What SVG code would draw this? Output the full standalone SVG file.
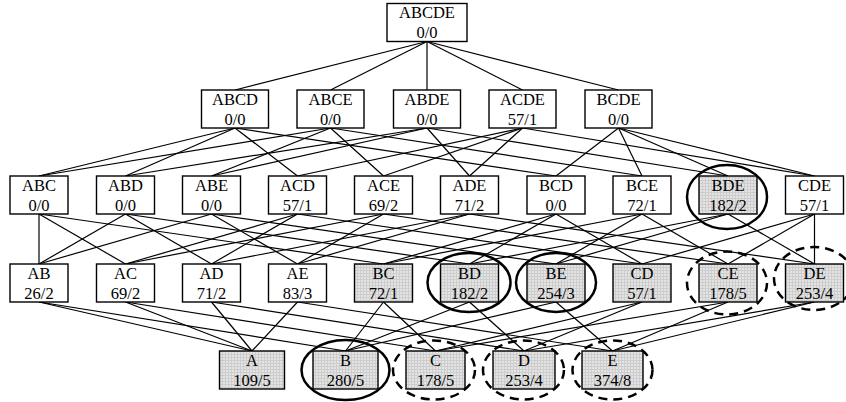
<svg xmlns="http://www.w3.org/2000/svg" width="846" height="402" viewBox="0 0 846 402">
<defs>
<pattern id="grid" width="3" height="3" patternUnits="userSpaceOnUse">
<rect width="3" height="3" fill="#e4e4e4"/>
<path d="M0 0.5H3M0.5 0V3" stroke="#cdcdcd" stroke-width="1"/>
</pattern>
</defs>
<style>
.box{fill:#fff;stroke:#000;stroke-width:1.4}
.hl{fill:url(#grid);stroke:#000;stroke-width:1.4}
.t{font-family:"Liberation Serif","Times New Roman",serif;font-size:16.5px;fill:#000;text-anchor:middle}
.sol{fill:none;stroke:#000;stroke-width:2.5}
.dsh{fill:none;stroke:#000;stroke-width:2.5;stroke-dasharray:9 6}
#edges line{stroke:#000;stroke-width:1.2}
</style>
<g id="edges">
<!-- row1 to row2 -->
<line x1="427" y1="41.5" x2="235" y2="90"/>
<line x1="427" y1="41.5" x2="330.5" y2="90"/>
<line x1="427" y1="41.5" x2="427" y2="90"/>
<line x1="427" y1="41.5" x2="522.5" y2="90"/>
<line x1="427" y1="41.5" x2="618.5" y2="90"/>
<!-- row2 to row3 -->
<line x1="235" y1="128" x2="39" y2="176"/>
<line x1="235" y1="128" x2="125.5" y2="176"/>
<line x1="235" y1="128" x2="297.5" y2="176"/>
<line x1="235" y1="128" x2="556" y2="176"/>
<line x1="330.5" y1="128" x2="39" y2="176"/>
<line x1="330.5" y1="128" x2="211.5" y2="176"/>
<line x1="330.5" y1="128" x2="383.5" y2="176"/>
<line x1="330.5" y1="128" x2="642" y2="176"/>
<line x1="427" y1="128" x2="125.5" y2="176"/>
<line x1="427" y1="128" x2="211.5" y2="176"/>
<line x1="427" y1="128" x2="469.5" y2="176"/>
<line x1="427" y1="128" x2="728" y2="176"/>
<line x1="522.5" y1="128" x2="297.5" y2="176"/>
<line x1="522.5" y1="128" x2="383.5" y2="176"/>
<line x1="522.5" y1="128" x2="469.5" y2="176"/>
<line x1="522.5" y1="128" x2="814.5" y2="176"/>
<line x1="618.5" y1="128" x2="556" y2="176"/>
<line x1="618.5" y1="128" x2="642" y2="176"/>
<line x1="618.5" y1="128" x2="728" y2="176"/>
<line x1="618.5" y1="128" x2="814.5" y2="176"/>
<!-- row3 to row4 -->
<line x1="39" y1="214" x2="39" y2="264"/>
<line x1="39" y1="214" x2="125.5" y2="264"/>
<line x1="39" y1="214" x2="383.5" y2="264"/>
<line x1="125.5" y1="214" x2="39" y2="264"/>
<line x1="125.5" y1="214" x2="211.5" y2="264"/>
<line x1="125.5" y1="214" x2="469.5" y2="264"/>
<line x1="211.5" y1="214" x2="39" y2="264"/>
<line x1="211.5" y1="214" x2="297.5" y2="264"/>
<line x1="211.5" y1="214" x2="556" y2="264"/>
<line x1="297.5" y1="214" x2="125.5" y2="264"/>
<line x1="297.5" y1="214" x2="211.5" y2="264"/>
<line x1="297.5" y1="214" x2="642" y2="264"/>
<line x1="383.5" y1="214" x2="125.5" y2="264"/>
<line x1="383.5" y1="214" x2="297.5" y2="264"/>
<line x1="383.5" y1="214" x2="728" y2="264"/>
<line x1="469.5" y1="214" x2="211.5" y2="264"/>
<line x1="469.5" y1="214" x2="297.5" y2="264"/>
<line x1="469.5" y1="214" x2="814.5" y2="264"/>
<line x1="556" y1="214" x2="383.5" y2="264"/>
<line x1="556" y1="214" x2="469.5" y2="264"/>
<line x1="556" y1="214" x2="642" y2="264"/>
<line x1="642" y1="214" x2="383.5" y2="264"/>
<line x1="642" y1="214" x2="556" y2="264"/>
<line x1="642" y1="214" x2="728" y2="264"/>
<line x1="728" y1="214" x2="469.5" y2="264"/>
<line x1="728" y1="214" x2="556" y2="264"/>
<line x1="728" y1="214" x2="814.5" y2="264"/>
<line x1="814.5" y1="214" x2="642" y2="264"/>
<line x1="814.5" y1="214" x2="728" y2="264"/>
<line x1="814.5" y1="214" x2="814.5" y2="264"/>
<!-- row4 to row5 -->
<line x1="39" y1="302" x2="252" y2="351"/>
<line x1="39" y1="302" x2="345.5" y2="351"/>
<line x1="125.5" y1="302" x2="252" y2="351"/>
<line x1="125.5" y1="302" x2="435.5" y2="351"/>
<line x1="211.5" y1="302" x2="252" y2="351"/>
<line x1="211.5" y1="302" x2="524" y2="351"/>
<line x1="297.5" y1="302" x2="252" y2="351"/>
<line x1="297.5" y1="302" x2="612.5" y2="351"/>
<line x1="383.5" y1="302" x2="345.5" y2="351"/>
<line x1="383.5" y1="302" x2="435.5" y2="351"/>
<line x1="469.5" y1="302" x2="345.5" y2="351"/>
<line x1="469.5" y1="302" x2="524" y2="351"/>
<line x1="556" y1="302" x2="345.5" y2="351"/>
<line x1="556" y1="302" x2="612.5" y2="351"/>
<line x1="642" y1="302" x2="435.5" y2="351"/>
<line x1="642" y1="302" x2="524" y2="351"/>
<line x1="728" y1="302" x2="435.5" y2="351"/>
<line x1="728" y1="302" x2="612.5" y2="351"/>
<line x1="814.5" y1="302" x2="524" y2="351"/>
<line x1="814.5" y1="302" x2="612.5" y2="351"/>
</g>
<!-- row 1 -->
<g id="ABCDE"><rect class="box" x="387" y="3.5" width="80" height="38"/><text class="t" x="427" y="18">ABCDE</text><text class="t" x="427" y="38">0/0</text></g>
<!-- row 2 -->
<g id="ABCD"><rect class="box" x="201.5" y="90" width="67" height="38"/><text class="t" x="235" y="104.5">ABCD</text><text class="t" x="235" y="124.5">0/0</text></g>
<g id="ABCE"><rect class="box" x="297" y="90" width="67" height="38"/><text class="t" x="330.5" y="104.5">ABCE</text><text class="t" x="330.5" y="124.5">0/0</text></g>
<g id="ABDE"><rect class="box" x="393.5" y="90" width="67" height="38"/><text class="t" x="427" y="104.5">ABDE</text><text class="t" x="427" y="124.5">0/0</text></g>
<g id="ACDE"><rect class="box" x="489" y="90" width="67" height="38"/><text class="t" x="522.5" y="104.5">ACDE</text><text class="t" x="522.5" y="124.5">57/1</text></g>
<g id="BCDE"><rect class="box" x="585" y="90" width="67" height="38"/><text class="t" x="618.5" y="104.5">BCDE</text><text class="t" x="618.5" y="124.5">0/0</text></g>
<!-- row 3 -->
<g id="ABC"><rect class="box" x="10" y="176" width="58" height="38"/><text class="t" x="39" y="190.5">ABC</text><text class="t" x="39" y="210.5">0/0</text></g>
<g id="ABD"><rect class="box" x="96.5" y="176" width="58" height="38"/><text class="t" x="125.5" y="190.5">ABD</text><text class="t" x="125.5" y="210.5">0/0</text></g>
<g id="ABE"><rect class="box" x="182.5" y="176" width="58" height="38"/><text class="t" x="211.5" y="190.5">ABE</text><text class="t" x="211.5" y="210.5">0/0</text></g>
<g id="ACD"><rect class="box" x="268.5" y="176" width="58" height="38"/><text class="t" x="297.5" y="190.5">ACD</text><text class="t" x="297.5" y="210.5">57/1</text></g>
<g id="ACE"><rect class="box" x="354.5" y="176" width="58" height="38"/><text class="t" x="383.5" y="190.5">ACE</text><text class="t" x="383.5" y="210.5">69/2</text></g>
<g id="ADE"><rect class="box" x="440.5" y="176" width="58" height="38"/><text class="t" x="469.5" y="190.5">ADE</text><text class="t" x="469.5" y="210.5">71/2</text></g>
<g id="BCD"><rect class="box" x="527" y="176" width="58" height="38"/><text class="t" x="556" y="190.5">BCD</text><text class="t" x="556" y="210.5">0/0</text></g>
<g id="BCE"><rect class="box" x="613" y="176" width="58" height="38"/><text class="t" x="642" y="190.5">BCE</text><text class="t" x="642" y="210.5">72/1</text></g>
<g id="BDE"><rect class="hl" x="699" y="176" width="58" height="38"/><text class="t" x="728" y="190.5">BDE</text><text class="t" x="728" y="210.5">182/2</text><ellipse class="sol" cx="727" cy="197" rx="40" ry="32"/></g>
<g id="CDE"><rect class="box" x="785.5" y="176" width="58" height="38"/><text class="t" x="814.5" y="190.5">CDE</text><text class="t" x="814.5" y="210.5">57/1</text></g>
<!-- row 4 -->
<g id="AB"><rect class="box" x="10" y="264" width="58" height="38"/><text class="t" x="39" y="278.5">AB</text><text class="t" x="39" y="298.5">26/2</text></g>
<g id="AC"><rect class="box" x="96.5" y="264" width="58" height="38"/><text class="t" x="125.5" y="278.5">AC</text><text class="t" x="125.5" y="298.5">69/2</text></g>
<g id="AD"><rect class="box" x="182.5" y="264" width="58" height="38"/><text class="t" x="211.5" y="278.5">AD</text><text class="t" x="211.5" y="298.5">71/2</text></g>
<g id="AE"><rect class="box" x="268.5" y="264" width="58" height="38"/><text class="t" x="297.5" y="278.5">AE</text><text class="t" x="297.5" y="298.5">83/3</text></g>
<g id="BC"><rect class="hl" x="354.5" y="264" width="58" height="38"/><text class="t" x="383.5" y="278.5">BC</text><text class="t" x="383.5" y="298.5">72/1</text></g>
<g id="BD"><rect class="hl" x="440.5" y="264" width="58" height="38"/><text class="t" x="469.5" y="278.5">BD</text><text class="t" x="469.5" y="298.5">182/2</text><ellipse class="sol" cx="469" cy="282.5" rx="41.5" ry="29.5"/></g>
<g id="BE"><rect class="hl" x="527" y="264" width="58" height="38"/><text class="t" x="556" y="278.5">BE</text><text class="t" x="556" y="298.5">254/3</text><ellipse class="sol" cx="556" cy="282.5" rx="40" ry="29.5"/></g>
<g id="CD"><rect class="hl" x="613" y="264" width="58" height="38"/><text class="t" x="642" y="278.5">CD</text><text class="t" x="642" y="298.5">57/1</text></g>
<g id="CE"><rect class="hl" x="699" y="264" width="58" height="38"/><text class="t" x="728" y="278.5">CE</text><text class="t" x="728" y="298.5">178/5</text><ellipse class="dsh" cx="727" cy="283" rx="40" ry="31.5"/></g>
<g id="DE"><rect class="hl" x="785.5" y="264" width="58" height="38"/><text class="t" x="814.5" y="278.5">DE</text><text class="t" x="814.5" y="298.5">253/4</text><ellipse class="dsh" cx="814" cy="278.5" rx="40" ry="31.5"/></g>
<!-- row 5 -->
<g id="A"><rect class="hl" x="219.5" y="351" width="65" height="38"/><text class="t" x="252" y="366">A</text><text class="t" x="252" y="386">109/5</text></g>
<g id="B"><rect class="hl" x="313" y="351" width="65" height="38"/><text class="t" x="345.5" y="366">B</text><text class="t" x="345.5" y="386">280/5</text><ellipse class="sol" cx="345.5" cy="370" rx="44" ry="30"/></g>
<g id="C"><rect class="hl" x="406" y="351" width="59" height="38"/><text class="t" x="435.5" y="366">C</text><text class="t" x="435.5" y="386">178/5</text><ellipse class="dsh" cx="434" cy="370" rx="41" ry="29.5"/></g>
<g id="D"><rect class="hl" x="493" y="351" width="62" height="38"/><text class="t" x="524" y="366">D</text><text class="t" x="524" y="386">253/4</text><ellipse class="dsh" cx="523.5" cy="370" rx="40.5" ry="29.5"/></g>
<g id="E"><rect class="hl" x="582" y="351" width="61" height="38"/><text class="t" x="612.5" y="366">E</text><text class="t" x="612.5" y="386">374/8</text><ellipse class="dsh" cx="612.5" cy="370" rx="40" ry="29.5"/></g>
</svg>
